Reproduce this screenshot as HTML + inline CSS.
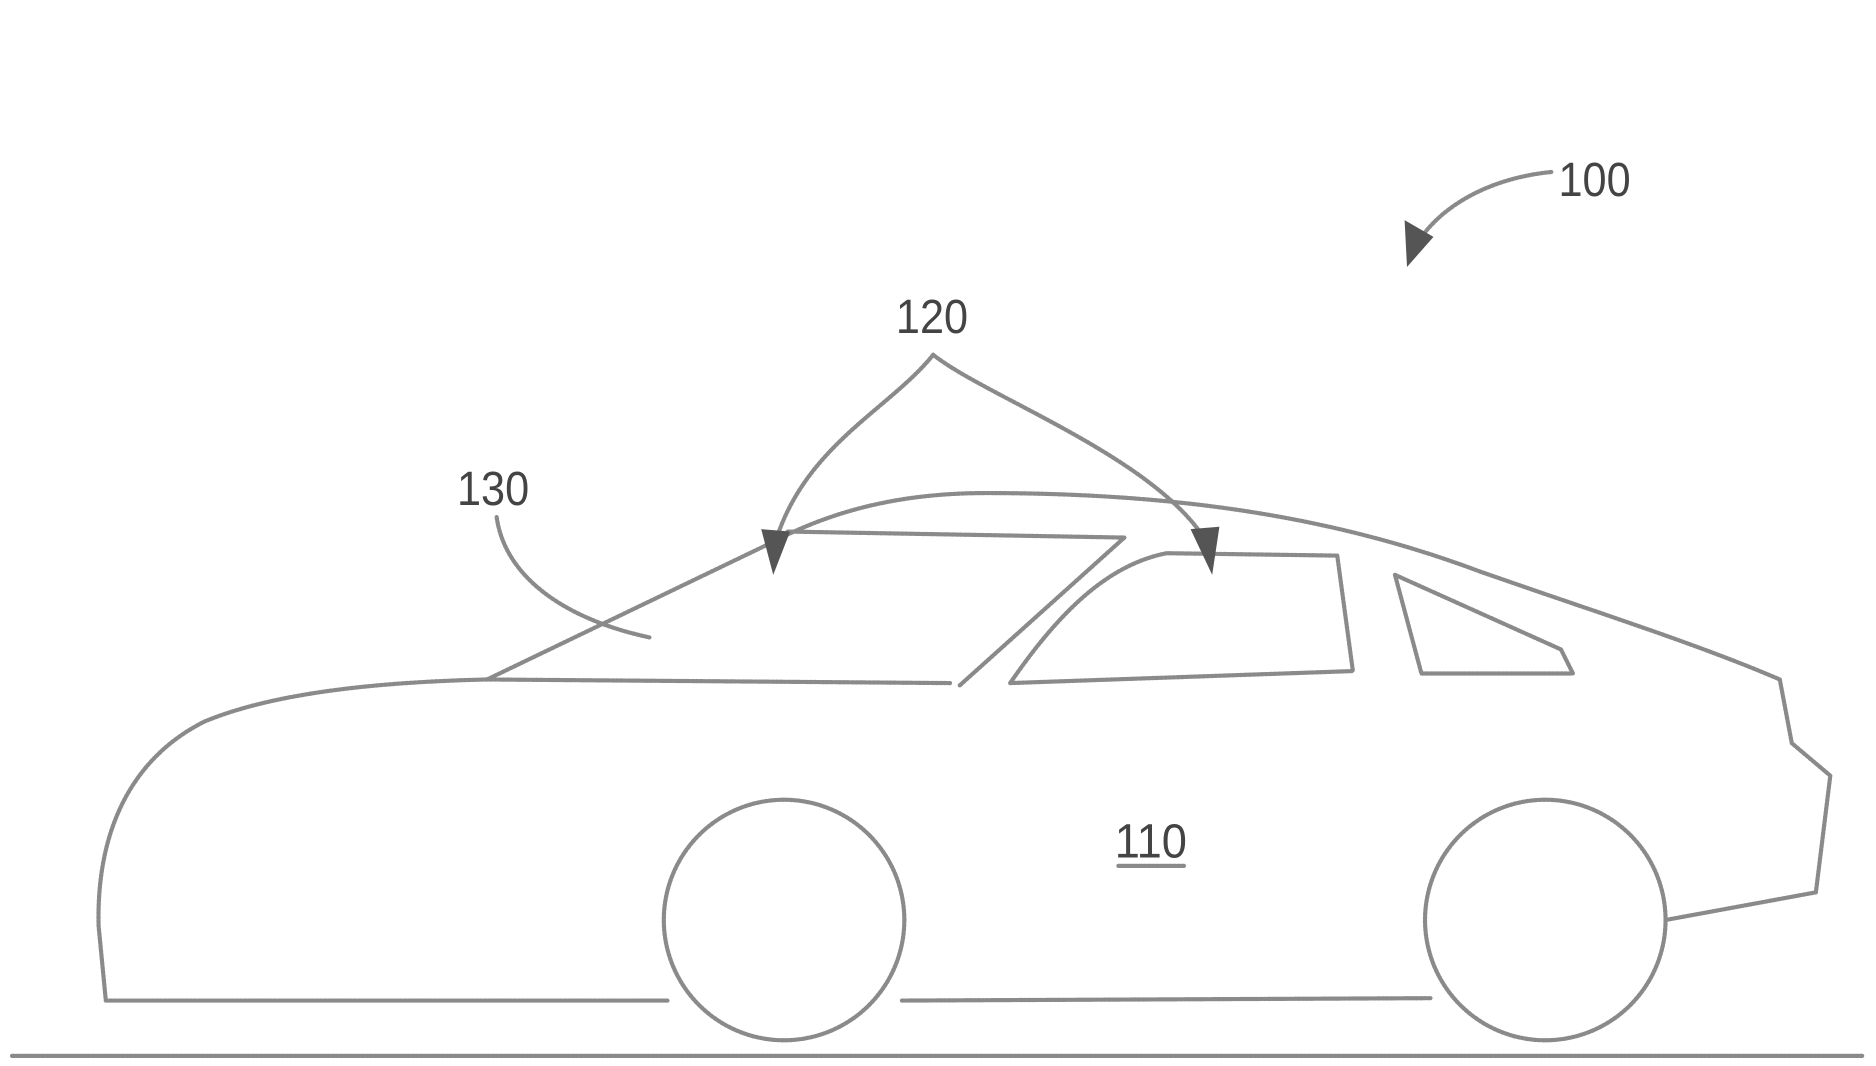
<!DOCTYPE html>
<html><head><meta charset="utf-8"><style>
html,body{margin:0;padding:0;background:#fff;}
svg{display:block;}
text{font-family:"Liberation Sans",sans-serif;fill:#444;}
</style></head><body>
<svg width="1876" height="1066" viewBox="0 0 1560 886.4" preserveAspectRatio="none" xmlns="http://www.w3.org/2000/svg">
<g fill="none" stroke="#8a8a8a" stroke-width="3.5" stroke-dasharray="2 1.5" stroke-linecap="round" stroke-linejoin="round">
<line x1="10" y1="878" x2="1550" y2="878"/>
<path d="M555 832 L88 832 L82 770 C80 690 110 630 170 600 C230 575 320 567 405 565 L790 568"/>
<path d="M750 832 L1190 830"/>
<path d="M405 565 L640 452 C700 420 760 410 820 410 C980 410 1110 430 1230 475 C1330 510 1410 535 1480 565 L1490 618 L1522 645 L1510 742 L1385 765"/>
<path d="M655 442 L935 447 L798 570"/>
<path d="M840 568 C880 510 920 470 970 460 L1112 462 L1125 558 Z"/>
<path d="M1160 478 L1298 540 L1308 560 L1182 560 Z"/>
<circle cx="652" cy="765" r="100"/>
<circle cx="1285" cy="765" r="100"/>
<path d="M1290 143 C1240 148 1200 170 1180 200"/>
<path d="M776 295 C740 340 670 370 645 450"/>
<path d="M776 295 C820 330 960 380 1003 450"/>
<path d="M413 430 C420 480 470 515 540 530"/>
<line x1="930" y1="720" x2="985" y2="720"/>
</g>
<g fill="#555">
<polygon points="1168,183 1192,197 1170,222"/>
<polygon points="633,440 657,442 643,478"/>
<polygon points="990,440 1014,438 1008,478"/>
</g>
<g font-size="40">
<text x="1296" y="163" textLength="60" lengthAdjust="spacingAndGlyphs">100</text>
<text x="745" y="277" textLength="60" lengthAdjust="spacingAndGlyphs">120</text>
<text x="380" y="420" textLength="60" lengthAdjust="spacingAndGlyphs">130</text>
<text x="927" y="713" textLength="60" lengthAdjust="spacingAndGlyphs">110</text>
</g>
</svg>
</body></html>
